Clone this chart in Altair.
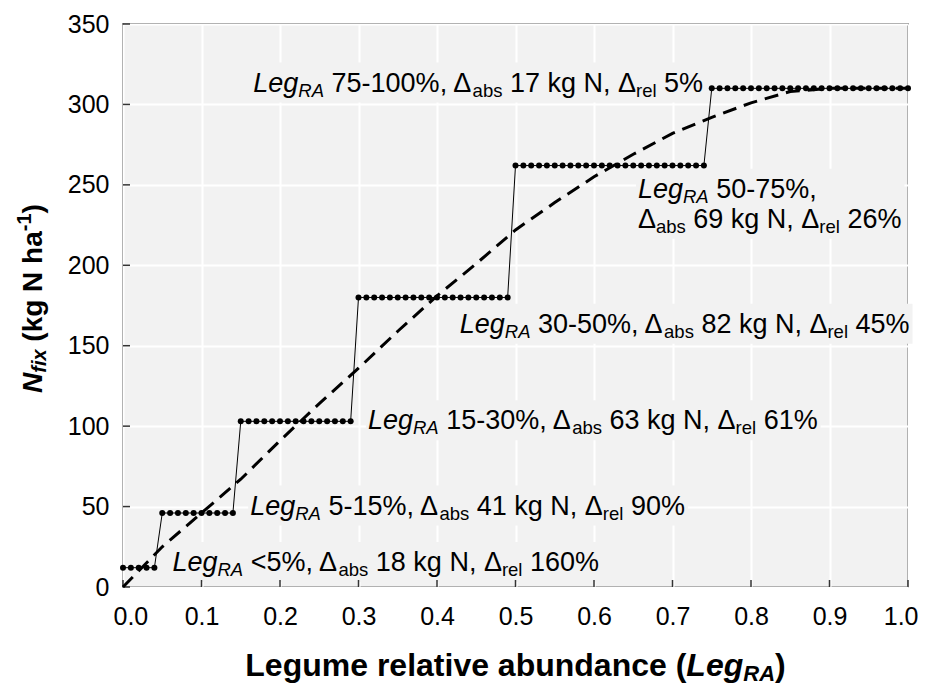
import altair as alt
import pandas as pd

# ---------------- data ----------------
step_start = [0.00, 0.05, 0.15, 0.30, 0.50, 0.75]
step_end = [0.04, 0.14, 0.29, 0.49, 0.74, 1.00]
step_value = [12, 46, 103, 180, 262, 310]

curve_x = [0.00, 0.05, 0.10, 0.15, 0.20, 0.25, 0.30, 0.35, 0.40, 0.45, 0.50,
           0.55, 0.60, 0.65, 0.70, 0.75, 0.80, 0.85, 0.90, 0.95, 1.00]
curve_y = [0, 25, 46, 67, 91, 114, 136, 159, 181, 201, 222,
           239, 255, 269, 282, 292, 301, 308, 310, 310, 310]

label_range = ["75-100%", "50-75%", "30-50%", "15-30%", "5-15%", "<5%"]
label_abs = [17, 69, 82, 63, 41, 18]
label_rel = [5, 26, 45, 61, 90, 160]
label_x = [0.166, 0.656, 0.429, 0.312, 0.162, 0.063]
label_y = [308, 242, 158, 98, 45, 10]
label_lines = [1, 2, 1, 1, 1, 1]

x_ticks = [0.0, 0.1, 0.2, 0.3, 0.4, 0.5, 0.6, 0.7, 0.8, 0.9, 1.0]
y_ticks = [0, 50, 100, 150, 200, 250, 300, 350]

# ---------------- layout constants ----------------
W, H = 785, 563
PX = 1.0 / W          # data units per pixel (x)
PY = 350.0 / H        # data units per pixel (y)
FONT = "Liberation Sans"
MAIN, SUB, SUBDY = 27, 18.5, 5
LINE_GAP = 30

REG = {' ': 278, '%': 889, ',': 278, '-': 333, '.': 278, '<': 584, 'A': 667,
       'L': 556, 'N': 722, 'R': 722, 'a': 556, 'b': 556, 'e': 556, 'g': 556,
       'k': 500, 'l': 222, 'r': 333, 's': 500, 'Δ': 667}
BOLD = {' ': 278, '(': 333, ')': 333, '-': 333, 'A': 722, 'L': 611, 'N': 722,
        'R': 722, 'a': 556, 'b': 611, 'c': 556, 'd': 611, 'e': 556, 'f': 333,
        'g': 611, 'h': 611, 'i': 278, 'k': 556, 'l': 278, 'm': 889, 'n': 611,
        'r': 389, 't': 333, 'u': 611, 'v': 556, 'x': 556}


def text_w(t, size, bold=False):
    table = BOLD if bold else REG
    return sum(table.get(c, 556) for c in t) / 1000.0 * size


# step points every 0.01
sx, sy = [], []
for a, b, v in zip(step_start, step_end, step_value):
    n = int(round((b - a) / 0.01)) + 1
    for k in range(n):
        sx.append(round(a + k * 0.01, 2))
        sy.append(v)
step_df = pd.DataFrame({"x": sx, "y": sy, "o": list(range(len(sx)))})
curve_df = pd.DataFrame({"x": curve_x, "y": curve_y})

# label pieces
rows, boxes = [], []
for i in range(len(label_range)):
    rng, ab, rl = label_range[i], label_abs[i], label_rel[i]
    if label_lines[i] == 1:
        lines = [[("Leg", "it"), ("RA", "itsub"), (f" {rng}, Δ", "n"), ("abs", "sub"),
                  (f" {ab} kg N, Δ", "n"), ("rel", "sub"), (f" {rl}%", "n")]]
    else:
        lines = [[("Leg", "it"), ("RA", "itsub"), (f" {rng},", "n")],
                 [("Δ", "n"), ("abs", "sub"), (f" {ab} kg N, Δ", "n"), ("rel", "sub"),
                  (f" {rl}%", "n")]]
    maxw = 0
    for li, line in enumerate(lines):
        off = 0.0
        ybase = label_y[i] - li * LINE_GAP * PY
        for t, st in line:
            size = SUB if "sub" in st else MAIN
            lead = len(t) - len(t.lstrip(" "))
            off += text_w(" " * lead, size)
            t2 = t.lstrip(" ")
            rows.append({"x": label_x[i] + off * PX, "y": ybase, "t": t2, "st": st})
            off += text_w(t2, size)
        maxw = max(maxw, off)
    nl = len(lines)
    boxes.append({"x": label_x[i] - 2 * PX, "x2": label_x[i] + (maxw + 3) * PX,
                  "y": label_y[i] + 29 * PY,
                  "y2": label_y[i] - ((nl - 1) * LINE_GAP + 11) * PY})
text_df = pd.DataFrame(rows)
box_df = pd.DataFrame(boxes)

xs = alt.Scale(domain=[0, 1], nice=False, zero=False)
ys = alt.Scale(domain=[0, 350], nice=False, zero=False)

x_axis = alt.Axis(values=x_ticks, format=".1f", grid=True, gridColor="white", gridWidth=2,
                  gridOpacity=1, ticks=False, tickSize=0, domain=False, labelFontSize=25,
                  labelFont=FONT, labelColor="black", labelPadding=17, labelFlush=True,
                  labelFlushOffset=10, labelOverlap=False, title=None)
y_axis = alt.Axis(values=y_ticks, grid=True, gridColor="white", gridWidth=2, gridOpacity=1,
                  ticks=False, tickSize=0, domain=False, labelFontSize=25, labelFont=FONT,
                  labelColor="black", labelPadding=14, labelOverlap=False, title=None)

base_x = alt.X("x:Q", scale=xs, axis=x_axis)
base_y = alt.Y("y:Q", scale=ys, axis=y_axis)

boxes_layer = alt.Chart(box_df).mark_rect(color="#f2f2f2").encode(
    x=base_x, x2="x2:Q", y=base_y, y2="y2:Q")

xtick_layer = alt.Chart(pd.DataFrame({"x": x_ticks})).mark_rule(
    color="#333333", strokeWidth=1.5).encode(
    x=alt.X("x:Q", scale=xs), y=alt.value(H), y2=alt.value(H - 7))
ytick_layer = alt.Chart(pd.DataFrame({"y": y_ticks})).mark_rule(
    color="#333333", strokeWidth=1.5).encode(
    y=alt.Y("y:Q", scale=ys), x=alt.value(0), x2=alt.value(7))

step_line = alt.Chart(step_df).mark_line(color="black", strokeWidth=1).encode(
    x=alt.X("x:Q", scale=xs), y=alt.Y("y:Q", scale=ys), order="o:Q")
step_pts = alt.Chart(step_df).mark_circle(color="black", size=36, opacity=1).encode(
    x=alt.X("x:Q", scale=xs), y=alt.Y("y:Q", scale=ys))
curve_line = alt.Chart(curve_df).mark_line(
    color="black", strokeWidth=3, strokeDash=[14, 8]).encode(
    x=alt.X("x:Q", scale=xs), y=alt.Y("y:Q", scale=ys))

text_layers = []
for st, size, fstyle, dy in [("n", MAIN, "normal", 0), ("it", MAIN, "italic", 0),
                             ("sub", SUB, "normal", SUBDY), ("itsub", SUB, "italic", SUBDY)]:
    d = text_df[text_df["st"] == st]
    text_layers.append(
        alt.Chart(d).mark_text(align="left", baseline="alphabetic", fontSize=size,
                               fontStyle=fstyle, font=FONT, dy=dy, color="black").encode(
            x=alt.X("x:Q", scale=xs), y=alt.Y("y:Q", scale=ys), text="t:N"))

# ---------------- axis titles (rich text) ----------------
dummy = pd.DataFrame({"a": [0]})
title_layers = []

# x title
TX = 32
xt = [("Legume relative abundance (", "normal", TX, 0), ("Leg", "italic", TX, 0),
      ("RA", "italic", 22, 5), (")", "normal", TX, 0)]
tot = sum(text_w(t, s, True) for t, _, s, _ in xt)
off = (W - tot) / 2
for t, fs, s, dy in xt:
    title_layers.append(alt.Chart(dummy).mark_text(
        text=t, align="left", baseline="alphabetic", fontSize=s, fontWeight="bold",
        fontStyle=fs, font=FONT, color="black").encode(
        x=alt.value(off), y=alt.value(H + 89 + dy)))
    off += text_w(t, s, True)

# y title (rotated, reading upward)
TY = 28
yt = [("N", "italic", TY, 0), ("fix", "italic", 20, 4), (" (kg N ha", "normal", TY, 0),
      ("-1", "normal", 20, -11), (")", "normal", TY, 0)]
pos = 369.0
for t, fs, s, sh in yt:
    lead = len(t) - len(t.lstrip(" "))
    pos -= text_w(" " * lead, s, True)
    t2 = t.lstrip(" ")
    title_layers.append(alt.Chart(dummy).mark_text(
        text=t2, align="left", baseline="alphabetic", fontSize=s, fontWeight="bold",
        fontStyle=fs, font=FONT, color="black", angle=270).encode(
        x=alt.value(-81 + sh), y=alt.value(pos)))
    pos -= text_w(t2, s, True)

chart = alt.layer(
    boxes_layer, xtick_layer, ytick_layer, step_line, step_pts, curve_line,
    *text_layers, *title_layers
).properties(
    width=W, height=H,
    padding={"left": 115, "top": 16, "right": 10, "bottom": 98},
    autosize=alt.AutoSizeParams(type="none"),
).configure_view(
    fill="#f2f2f2", stroke="#333333", strokeWidth=1.5
)

chart.save("out.html", embed_options={"renderer": "svg", "actions": False})
